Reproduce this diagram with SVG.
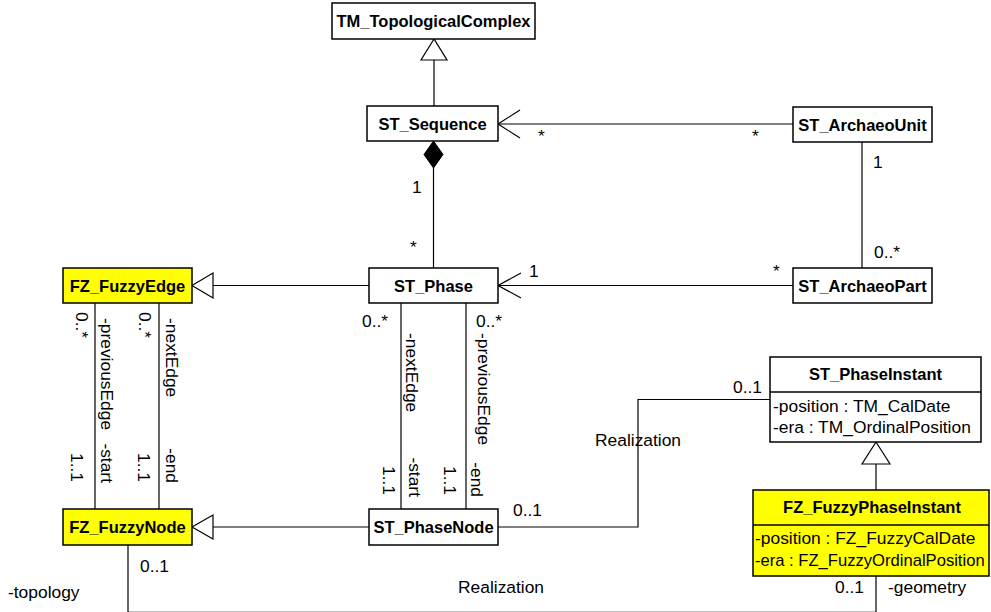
<svg xmlns="http://www.w3.org/2000/svg" width="991" height="612" viewBox="0 0 991 612">
<style>
.box{fill:#fff;stroke:#000;stroke-width:1.5}
.fz{fill:#ffff00;stroke:#000;stroke-width:1.5}
.sep{stroke:#000;stroke-width:1.5}
.t{font-family:"Liberation Sans",Arial,sans-serif;font-weight:bold;font-size:16.5px;text-anchor:middle;fill:#000}
.a{font-family:"Liberation Sans",Arial,sans-serif;font-size:17.4px;fill:#000}
.e{text-anchor:end}
.ln{fill:none;stroke:#000;stroke-width:1.2}
.gen{fill:#fff;stroke:#000;stroke-width:1.2}
.dia{fill:#000;stroke:#000;stroke-width:1}
</style>
<rect width="991" height="612" fill="#fff"/>

<g id="connectors">
  <path class="ln" d="M434,60 V106"/>
  <polygon class="gen" points="434,39 421,60 447,60"/>
  <path class="ln" d="M433.5,168 V268"/>
  <polygon class="dia" points="433.5,141 443,154.5 433.5,168 424,154.5"/>
  <path class="ln" d="M498,124 H793"/>
  <path class="ln" d="M520,110 L498,124 L520,138"/>
  <path class="ln" d="M862,142 V268"/>
  <path class="ln" d="M498,285.5 H793"/>
  <path class="ln" d="M521,273 L498,285.5 L521,298"/>
  <path class="ln" d="M213,285.5 H369"/>
  <polygon class="gen" points="192,285.5 213,273 213,298"/>
  <path class="ln" d="M213,527 H369"/>
  <polygon class="gen" points="192,527 213,515 213,539"/>
  <path class="ln" d="M95,303 V509"/>
  <path class="ln" d="M159,303 V509"/>
  <path class="ln" d="M401,303 V509"/>
  <path class="ln" d="M466,303 V509"/>
  <path class="ln" d="M498,527 H638 V399.5 H770"/>
  <path class="ln" d="M876,464 V490"/>
  <polygon class="gen" points="876,442 862,464 890,464"/>
  <path class="ln" d="M128,545 V612.3 H876 V576"/>
</g>

<g id="labels">
  <text class="a" x="538" y="142">*</text>
  <text class="a" x="752" y="142">*</text>
  <text class="a" x="412" y="193">1</text>
  <text class="a" x="410" y="253">*</text>
  <text class="a" x="873" y="168">1</text>
  <text class="a" x="874" y="258">0..*</text>
  <text class="a" x="773" y="277">*</text>
  <text class="a" x="529" y="277">1</text>
  <text class="a" x="362" y="327">0..*</text>
  <text class="a" x="476" y="327">0..*</text>
  <text class="a" x="513" y="516">0..1</text>
  <text class="a" x="733" y="393">0..1</text>
  <text class="a" x="595" y="446">Realization</text>
  <text class="a" x="458" y="593">Realization</text>
  <text class="a" x="140" y="572">0..1</text>
  <text class="a" x="8" y="598">-topology</text>
  <text class="a" x="835" y="593">0..1</text>
  <text class="a" x="888" y="593">-geometry</text>

  <text class="a" transform="translate(76,312) rotate(90)">0..*</text>
  <text class="a" transform="translate(101,318) rotate(90)">-previousEdge</text>
  <text class="a" transform="translate(139,312) rotate(90)">0..*</text>
  <text class="a" transform="translate(166,318) rotate(90)">-nextEdge</text>
  <text class="a e" transform="translate(71,482) rotate(90)">1..1</text>
  <text class="a e" transform="translate(101,483) rotate(90)">-start</text>
  <text class="a e" transform="translate(138,482) rotate(90)">1..1</text>
  <text class="a e" transform="translate(166,483) rotate(90)">-end</text>

  <text class="a" transform="translate(406,333) rotate(90)">-nextEdge</text>
  <text class="a" transform="translate(478,333) rotate(90)">-previousEdge</text>
  <text class="a e" transform="translate(383,495) rotate(90)">1..1</text>
  <text class="a e" transform="translate(409,497) rotate(90)">-start</text>
  <text class="a e" transform="translate(444,495) rotate(90)">1..1</text>
  <text class="a e" transform="translate(471,497) rotate(90)">-end</text>
</g>

<g id="TM_TopologicalComplex">
  <rect class="box" x="332" y="3" width="203" height="36"/>
  <text class="t" x="433.5" y="27">TM_TopologicalComplex</text>
</g>
<g id="ST_Sequence">
  <rect class="box" x="367" y="106" width="131" height="35"/>
  <text class="t" x="432.5" y="130">ST_Sequence</text>
</g>
<g id="ST_ArchaeoUnit">
  <rect class="box" x="793" y="107" width="139" height="35"/>
  <text class="t" x="862.5" y="131">ST_ArchaeoUnit</text>
</g>
<g id="ST_Phase">
  <rect class="box" x="369" y="268" width="129" height="35"/>
  <text class="t" x="433.5" y="292">ST_Phase</text>
</g>
<g id="ST_ArchaeoPart">
  <rect class="box" x="793" y="268" width="139" height="35"/>
  <text class="t" x="862.5" y="292">ST_ArchaeoPart</text>
</g>
<g id="FZ_FuzzyEdge">
  <rect class="fz" x="63" y="268" width="129" height="35"/>
  <text class="t" x="127.5" y="292">FZ_FuzzyEdge</text>
</g>
<g id="FZ_FuzzyNode">
  <rect class="fz" x="63" y="509" width="129" height="36"/>
  <text class="t" x="127.5" y="533">FZ_FuzzyNode</text>
</g>
<g id="ST_PhaseNode">
  <rect class="box" x="369" y="509" width="129" height="36"/>
  <text class="t" x="433.5" y="533">ST_PhaseNode</text>
</g>
<g id="ST_PhaseInstant">
  <rect class="box" x="770" y="357" width="211" height="85"/>
  <line class="sep" x1="770" y1="392" x2="981" y2="392"/>
  <text class="t" x="875.5" y="380">ST_PhaseInstant</text>
  <text class="a" x="773" y="411.5">-position : TM_CalDate</text>
  <text class="a" x="773" y="433">-era : TM_OrdinalPosition</text>
</g>
<g id="FZ_FuzzyPhaseInstant">
  <rect class="fz" x="753" y="490" width="236" height="86"/>
  <line class="sep" x1="753" y1="525" x2="989" y2="525"/>
  <text class="t" x="872" y="513">FZ_FuzzyPhaseInstant</text>
  <text class="a" x="755" y="544">-position : FZ_FuzzyCalDate</text>
  <text class="a" x="755" y="566" style="font-size:16.6px">-era : FZ_FuzzyOrdinalPosition</text>
</g>
</svg>
